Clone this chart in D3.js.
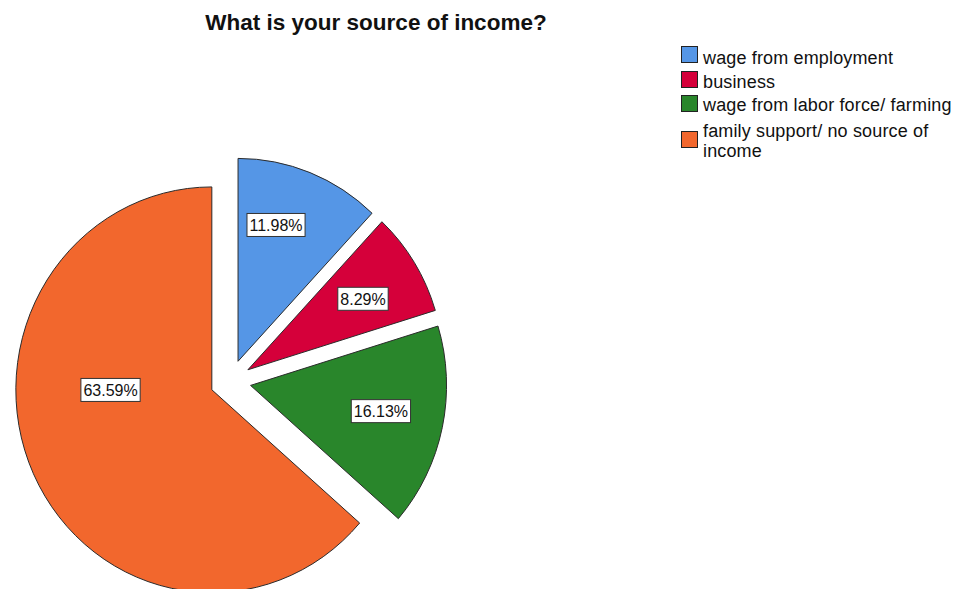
<!DOCTYPE html>
<html>
<head>
<meta charset="utf-8">
<script src="https://cdn.jsdelivr.net/npm/d3@7"></script>
<style>
  html, body { margin: 0; padding: 0; background: #fff; }
  svg { display: block; font-family: Arial, "Liberation Sans", sans-serif; }
</style>
</head>
<body>
<svg id="chart" width="958" height="589"></svg>
<script>
// Survey answers: share of respondents by source of income
const categories = [
  "wage from employment",
  "business",
  "wage from labor force/ farming",
  "family support/ no source of income"
];
const percents = [11.98, 8.29, 16.13, 63.59];
const colors = ["#5596e6", "#d5003a", "#29862b", "#f2672d"];
const legendLines = [
  ["wage from employment"],
  ["business"],
  ["wage from labor force/ farming"],
  ["family support/ no source of", "income"]
];

const svg = d3.select("#chart");

// Title
svg.append("text")
  .attr("x", 376).attr("y", 30)
  .attr("text-anchor", "middle")
  .attr("font-size", 22.5).attr("font-weight", "bold")
  .attr("fill", "#111")
  .text("What is your source of income?");

// Pie layout
const cx = 230.5, cy = 381;     // pie centre
const radius = 196;
const yStretch = 1.035;
const explode = 20.5;

const pie = d3.pie().sort(null).value(d => d).startAngle(0).endAngle(2 * Math.PI);
const arcs = pie(percents);
const arc = d3.arc().innerRadius(0).outerRadius(radius);

const g = svg.append("g").attr("transform", `translate(${cx},${cy}) scale(1,${yStretch})`);

function offset(a) {
  const mid = (a.startAngle + a.endAngle) / 2;
  return [explode * Math.sin(mid), -explode * Math.cos(mid)];
}

g.selectAll("path.slice")
  .data(arcs)
  .join("path")
  .attr("class", "slice")
  .attr("transform", d => { const o = offset(d); return `translate(${o[0]},${o[1]})`; })
  .attr("d", arc)
  .attr("fill", (d, i) => colors[i])
  .attr("stroke", "#2b2b2b")
  .attr("stroke-width", 1)
  .attr("vector-effect", "non-scaling-stroke")
  .attr("stroke-linejoin", "miter");

// Value labels in white boxes
const labelRadius = radius * 0.68;
const labelNudge = [[-11, -8], [2, 2], [0, -3], [20, -57]];
const labels = svg.append("g");
arcs.forEach((a, i) => {
  const mid = (a.startAngle + a.endAngle) / 2;
  const o = offset(a);
  const x = cx + o[0] + labelRadius * Math.sin(mid) + labelNudge[i][0];
  const y = cy + (o[1] - labelRadius * Math.cos(mid)) * yStretch + labelNudge[i][1];
  const lg = labels.append("g").attr("transform", `translate(${x},${y})`);
  const t = lg.append("text")
    .attr("text-anchor", "middle")
    .attr("dy", "0.36em")
    .attr("font-size", 16)
    .attr("fill", "#111")
    .text(d3.format(".2f")(percents[i]) + "%");
  const bb = t.node().getBBox();
  lg.insert("rect", "text")
    .attr("x", bb.x - 2.5).attr("y", -11.5)
    .attr("width", bb.width + 5).attr("height", 23)
    .attr("fill", "#fff")
    .attr("stroke", "#333").attr("stroke-width", 1);
});

// Legend
const legend = svg.append("g").attr("transform", "translate(681,0)");
const rowY = [46, 71, 95, 131];
const rowBase = [[64], [87.5], [111], [137, 157]];
categories.forEach((c, i) => {
  legend.append("rect")
    .attr("x", 0.5).attr("y", rowY[i] + 0.5)
    .attr("width", 16).attr("height", 16)
    .attr("fill", colors[i])
    .attr("stroke", "#222").attr("stroke-width", 1);
  legendLines[i].forEach((line, j) => {
    legend.append("text")
      .attr("x", 22).attr("y", rowBase[i][j])
      .attr("font-size", 18)
      .attr("letter-spacing", 0.15)
      .attr("fill", "#111")
      .text(line);
  });
});
</script>
</body>
</html>
